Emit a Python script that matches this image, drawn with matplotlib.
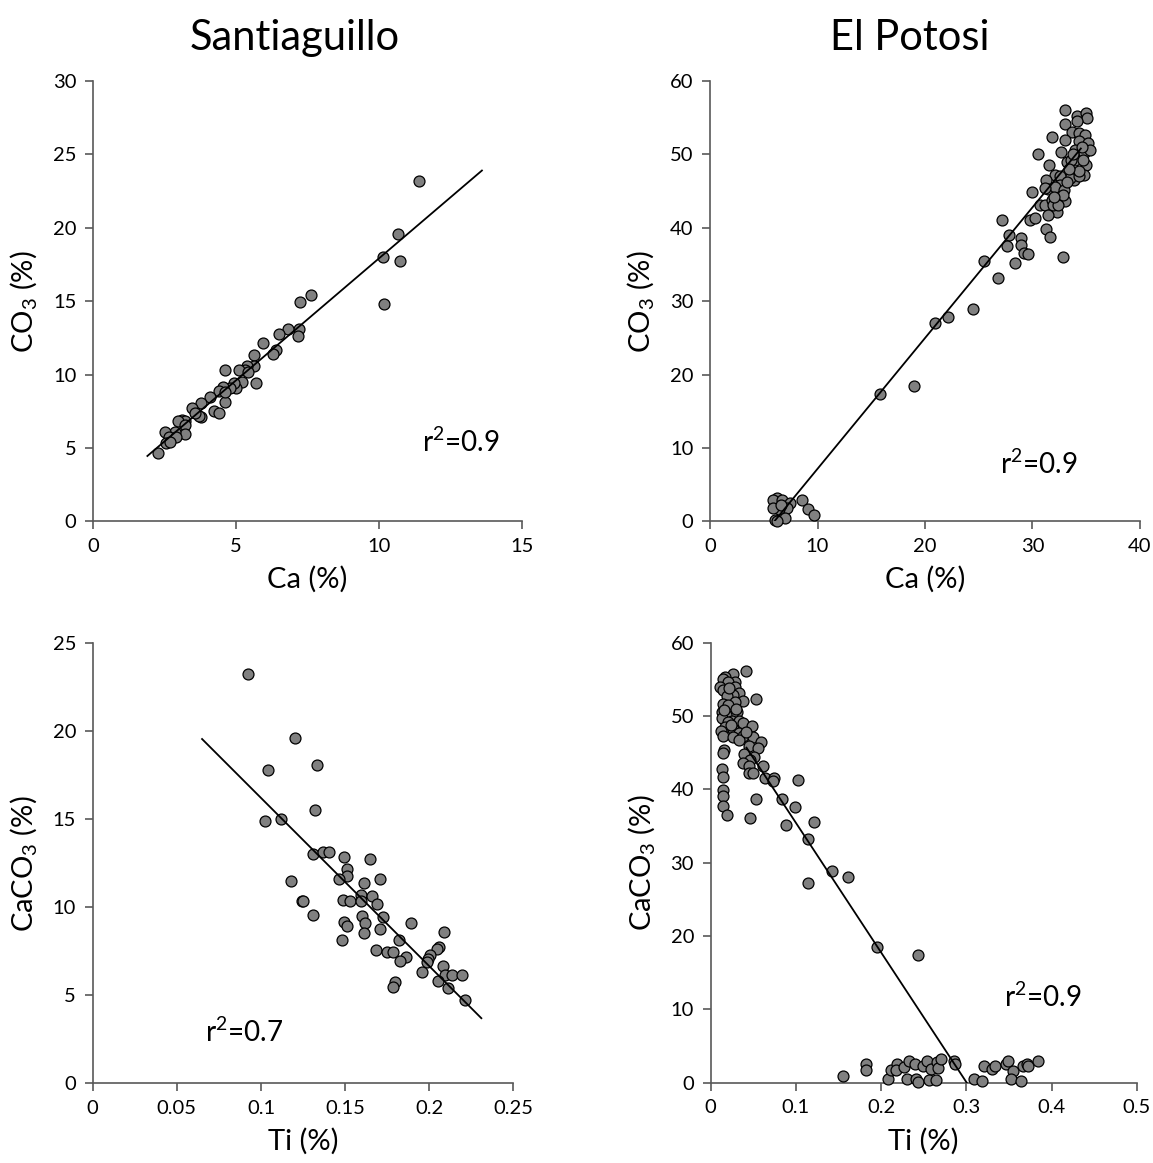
import numpy as np
import matplotlib.pyplot as plt

plt.rcParams['font.family'] = ['Lato', 'DejaVu Sans']
plt.rcParams['mathtext.fontset'] = 'custom'
plt.rcParams['mathtext.rm'] = 'Lato'
plt.rcParams['mathtext.it'] = 'Lato:italic'
plt.rcParams['mathtext.bf'] = 'Lato:bold'

# Santiaguillo: Ca (%) vs CO3 (%)
sa_ca = [11.41, 10.68, 10.13, 10.74, 10.16, 7.61, 7.23, 7.20, 7.16, 6.83,
         6.50, 5.96, 6.39, 6.29, 5.63, 5.63, 5.37, 5.32, 5.09, 5.41,
         4.62, 5.69, 5.21, 4.99, 4.94, 4.79, 4.53, 4.42, 4.60, 4.10,
         3.76, 3.45, 3.79, 3.72, 4.23, 4.42, 3.10, 3.22, 2.97, 3.20,
         3.22, 2.87, 2.53, 2.66, 2.90, 2.54, 2.70, 2.26, 4.63, 3.58]
sa_co3 = [23.16, 19.56, 17.99, 17.72, 14.84, 15.45, 14.95, 13.12, 12.64, 13.10,
          12.80, 12.14, 11.71, 11.42, 11.31, 10.60, 10.57, 10.31, 10.31, 10.17,
          10.31, 9.40, 9.49, 9.08, 9.40, 9.06, 9.17, 8.86, 8.13, 8.47,
          8.08, 7.70, 7.13, 7.17, 7.52, 7.41, 6.90, 6.86, 6.86, 6.56,
          5.95, 6.10, 6.10, 5.77, 5.77, 5.36, 5.40, 4.68, 8.80, 7.40]
sa_fit_x = [1.9, 13.6]
sa_fit_y = [4.46, 23.9]

# Santiaguillo: Ti (%) vs CaCO3 (%)
sa_ti = [0.0921, 0.120, 0.104, 0.1334, 0.1320, 0.1023, 0.1122, 0.131, 0.1368, 0.1405,
         0.1492, 0.165, 0.1510, 0.1510, 0.1466, 0.1179, 0.1615, 0.171, 0.1244, 0.1252,
         0.1486, 0.1532, 0.1593, 0.1593, 0.1658, 0.1692, 0.131, 0.1599, 0.1728, 0.1892,
         0.1494, 0.1514, 0.162, 0.1706, 0.1613, 0.2089, 0.1480, 0.1821, 0.1684, 0.1748,
         0.1787, 0.186, 0.1825, 0.2059, 0.2045, 0.2007, 0.1993, 0.1989, 0.1958, 0.2083,
         0.2093, 0.2138, 0.2196, 0.2053, 0.2112, 0.1795, 0.1783, 0.2213]
sa_caco3 = [23.26, 19.64, 17.80, 18.09, 15.51, 14.90, 15.00, 13.05, 13.14, 13.14,
            12.86, 12.73, 12.20, 11.78, 11.60, 11.48, 11.36, 11.62, 10.38, 10.38,
            10.44, 10.38, 10.68, 10.38, 10.63, 10.17, 9.55, 9.49, 9.43, 9.13,
            9.18, 8.93, 9.13, 8.79, 8.54, 8.62, 8.14, 8.13, 7.56, 7.47,
            7.47, 7.16, 6.93, 7.76, 7.65, 7.27, 7.06, 6.89, 6.32, 6.66,
            6.15, 6.13, 6.17, 5.83, 5.41, 5.76, 5.46, 4.73]
sa_fit2_x = [0.065, 0.231]
sa_fit2_y = [19.56, 3.70]

# El Potosi: Ca (%) vs CO3 (%)
ep_ca = [6.2, 5.9, 6.7, 7.45, 7.2, 6.39, 5.83, 7.0, 6.05, 6.27,
         8.59, 9.15, 9.70, 6.6, 15.78, 18.98, 20.96, 22.14, 24.5, 25.49,
         26.79, 27.2, 27.8, 27.6, 28.37, 28.9, 28.9, 29.2, 29.55, 29.77,
         30.2, 30.0, 30.54, 31.3, 31.6, 32.87, 31.85, 33.05, 33.05, 32.65,
         31.57, 34.1, 34.95, 35.04, 34.1, 33.7, 34.3, 34.9, 33.03, 34.33,
         35.2, 34.0, 34.75, 35.35, 33.18, 34.0, 33.6, 34.98, 34.75, 33.6,
         33.9, 33.5, 32.1, 32.56, 31.3, 31.47, 32.56, 32.1, 32.9, 31.16,
         30.7, 31.16, 31.8, 32.4, 33.0, 32.25, 31.47, 31.9, 32.4, 34.3,
         34.7, 34.3, 33.4, 32.8, 33.8, 34.6, 32.0, 33.2]
ep_co3 = [3.23, 2.9, 2.9, 2.55, 1.9, 1.73, 1.87, 0.5, 0.25, 0.05,
          2.9, 1.73, 0.82, 2.3, 17.37, 18.5, 27.1, 27.9, 28.9, 35.5,
          33.1, 41.1, 39.0, 37.5, 35.2, 38.6, 37.6, 36.6, 36.4, 41.06,
          41.4, 44.9, 50.1, 39.8, 38.7, 36.0, 52.3, 56.1, 54.2, 50.3,
          48.6, 55.25, 55.6, 54.9, 54.5, 53.1, 52.9, 52.6, 52.0, 51.8,
          51.6, 50.6, 50.2, 50.6, 49.0, 49.2, 49.2, 48.5, 47.2, 47.6,
          46.5, 46.8, 47.2, 47.0, 46.5, 45.25, 45.8, 45.6, 45.1, 45.4,
          43.1, 43.1, 43.8, 43.9, 43.7, 42.2, 41.7, 43.1, 43.1, 47.0,
          49.2, 47.8, 48.0, 44.5, 50.0, 51.0, 44.2, 46.2]
ep_fit_x = [6.0, 34.5]
ep_fit_y = [0.05, 50.8]

# El Potosi: Ti (%) vs CaCO3 (%)
ep_ti = [0.0411, 0.0265, 0.0168, 0.0140, 0.0285, 0.0207, 0.0109, 0.0285, 0.0140, 0.0336,
         0.0265, 0.0187, 0.0532, 0.0375, 0.0285, 0.0140, 0.0207, 0.0305, 0.0129, 0.0246,
         0.0179, 0.0129, 0.0246, 0.0336, 0.0383, 0.0207, 0.0481, 0.0168, 0.0121, 0.0265,
         0.0336, 0.0148, 0.0257, 0.0383, 0.0492, 0.0336, 0.0587, 0.0454, 0.0559, 0.0157,
         0.0140, 0.0391, 0.0508, 0.0461, 0.0383, 0.0454, 0.0618, 0.0129, 0.0148, 0.0450,
         0.0500, 0.0637, 0.0743, 0.0735, 0.1021, 0.0148, 0.0140, 0.0532, 0.0833, 0.0989,
         0.0140, 0.0187, 0.0461, 0.1216, 0.0880, 0.1138, 0.1424, 0.1608, 0.1137, 0.1956,
         0.2437, 0.0220, 0.0300, 0.0420, 0.0160, 0.0240,
         0.155, 0.1823, 0.1823, 0.2085, 0.2113, 0.2183, 0.2175, 0.2269, 0.2331, 0.2308,
         0.2398, 0.2410, 0.2437, 0.2488, 0.2535, 0.2582, 0.2566, 0.2644, 0.2652, 0.2672,
         0.270, 0.2856, 0.2868, 0.309, 0.3181, 0.3208, 0.3298, 0.3337, 0.3466, 0.3493,
         0.3544, 0.352, 0.3642, 0.3669, 0.3716, 0.3728, 0.3838]
ep_caco3 = [56.2, 55.8, 55.4, 55.0, 54.7, 54.6, 54.0, 54.0, 53.5, 53.1,
            52.9, 52.7, 52.4, 52.1, 51.9, 51.7, 51.5, 50.6, 50.6, 50.3,
            50.1, 49.7, 49.4, 49.4, 49.1, 49.2, 48.7, 48.5, 48.0, 48.2,
            47.7, 47.3, 47.2, 47.3, 47.2, 46.7, 46.5, 45.9, 45.6, 45.4,
            45.0, 44.9, 44.4, 44.0, 43.6, 43.2, 43.2, 42.8, 41.7, 42.2,
            42.2, 41.5, 41.5, 41.1, 41.25, 39.9, 39.1, 38.75, 38.7, 37.6,
            37.7, 36.5, 36.1, 35.6, 35.2, 33.2, 28.9, 28.0, 27.2, 18.55,
            17.38, 53.8, 51.0, 47.8, 50.8, 48.8,
            0.9, 2.6, 1.73, 0.46, 1.7, 2.6, 1.73, 2.1, 2.96, 0.55,
            2.5, 0.55, 0.15, 2.28, 3.0, 1.9, 0.36, 0.36, 2.8, 2.0,
            3.3, 2.9, 2.5, 0.55, 0.27, 2.28, 1.9, 2.3, 2.5, 3.0,
            1.6, 0.46, 0.23, 2.3, 2.6, 2.3, 2.96]
ep_fit2_x = [0.042, 0.3005]
ep_fit2_y = [45.7, 0.0]

fig = plt.figure(figsize=(11.53, 11.63), dpi=100)

panels = [
    # rect, x, y, fit x, fit y, xlim, xticks, ylim, yticks, xlabel, ylabel, r2 text, r2 pos, ticklabels
    ([0.0807, 0.5516, 0.372, 0.3788], sa_ca, sa_co3, sa_fit_x, sa_fit_y,
     (0, 15), [0, 5, 10, 15], (0, 30), [0, 5, 10, 15, 20, 25, 30],
     'Ca (%)', 'CO$_3$ (%)', 'r$^2$=0.9', (11.5, 4.7), None),
    ([0.6158, 0.5516, 0.3729, 0.3788], ep_ca, ep_co3, ep_fit_x, ep_fit_y,
     (0, 40), [0, 10, 20, 30, 40], (0, 60), [0, 10, 20, 30, 40, 50, 60],
     'Ca (%)', 'CO$_3$ (%)', 'r$^2$=0.9', (27.0, 6.5), None),
    ([0.0804, 0.0685, 0.3648, 0.3784], sa_ti, sa_caco3, sa_fit2_x, sa_fit2_y,
     (0, 0.25), [0, 0.05, 0.1, 0.15, 0.2, 0.25], (0, 25), [0, 5, 10, 15, 20, 25],
     'Ti (%)', 'CaCO$_3$ (%)', 'r$^2$=0.7', (0.0668, 2.35),
     ['0', '0.05', '0.1', '0.15', '0.2', '0.25']),
    ([0.6164, 0.069, 0.3695, 0.3783], ep_ti, ep_caco3, ep_fit2_x, ep_fit2_y,
     (0, 0.5), [0, 0.1, 0.2, 0.3, 0.4, 0.5], (0, 60), [0, 10, 20, 30, 40, 50, 60],
     'Ti (%)', 'CaCO$_3$ (%)', 'r$^2$=0.9', (0.344, 10.3),
     ['0', '0.1', '0.2', '0.3', '0.4', '0.5']),
]

spine_col = '#595959'
for rect, xs, ys, fx, fy, xlim, xt, ylim, yt, xl, yl, r2, r2pos, xtl in panels:
    ax = fig.add_axes(rect)
    ax.scatter(xs, ys, s=62, c='#808080', edgecolors='black', linewidths=0.9,
               zorder=3, clip_on=False)
    ax.plot(fx, fy, color='black', lw=1.3, zorder=4)
    ax.set_xlim(*xlim)
    ax.set_ylim(*ylim)
    ax.set_xticks(xt)
    ax.set_yticks(yt)
    if xtl is not None:
        ax.set_xticklabels(xtl)
    for s in ['top', 'right']:
        ax.spines[s].set_visible(False)
    for s in ['left', 'bottom']:
        ax.spines[s].set_color(spine_col)
        ax.spines[s].set_linewidth(1.2)
    ax.tick_params(direction='out', length=6, width=1.2, color=spine_col,
                   labelsize=14.5, pad=6)
    ax.set_xlabel(xl, fontsize=21, labelpad=8)
    ax.set_ylabel(yl, fontsize=21, labelpad=10)
    ax.text(r2pos[0], r2pos[1], r2, fontsize=20, ha='left', va='baseline')

fig.text(0.256, 0.967, 'Santiaguillo', fontsize=30, ha='center', va='center')
fig.text(0.789, 0.967, 'El Potosi', fontsize=30, ha='center', va='center')

fig.savefig('out.png', dpi=100)
